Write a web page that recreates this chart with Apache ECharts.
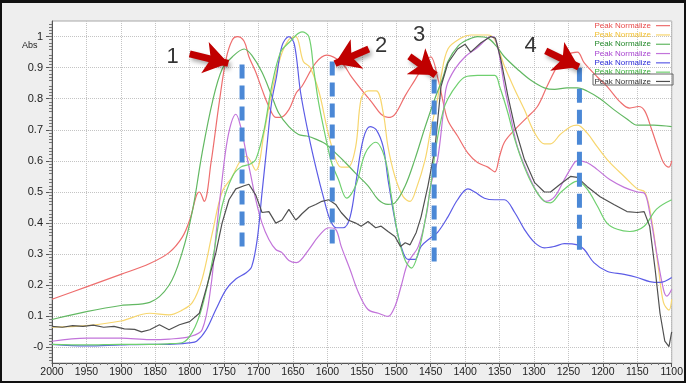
<!DOCTYPE html>
<html><head><meta charset="utf-8">
<script src="https://cdn.jsdelivr.net/npm/echarts@6/dist/echarts.min.js"></script>
<style>
html,body{margin:0;padding:0;background:#eeeeee}
#c{width:686px;height:383px;position:absolute;left:0;top:0}
#f{position:absolute;left:0;top:0;width:686px;height:383px;box-sizing:border-box;border:2px solid #111;border-top-width:3px;pointer-events:none}
</style>
</head><body><div id="c"></div><div id="f"></div>
<script>
// wavenumber (cm-1), absorbance
const red = [[2000,0.155],[1950,0.195],[1900,0.235],[1858,0.27],[1830,0.305],[1811,0.354],[1800,0.41],[1790,0.49],[1786,0.50],[1779,0.47],[1769,0.595],[1757,0.79],[1747,0.93],[1738,0.99],[1731,1.0],[1721,0.985],[1714,0.935],[1704,0.885],[1695,0.83],[1685,0.775],[1675,0.74],[1668,0.74],[1656,0.765],[1645,0.82],[1637,0.84],[1617,0.915],[1601,0.94],[1579,0.915],[1565,0.87],[1551,0.83],[1536,0.79],[1522,0.75],[1512,0.74],[1502,0.75],[1487,0.81],[1473,0.86],[1458,0.915],[1450,0.935],[1439,0.86],[1432,0.79],[1425,0.73],[1411,0.68],[1396,0.625],[1382,0.595],[1367,0.58],[1357,0.565],[1350,0.615],[1343,0.66],[1328,0.70],[1310,0.74],[1295,0.775],[1281,0.84],[1266,0.905],[1252,0.94],[1237,0.95],[1227,0.915],[1208,0.87],[1194,0.84],[1175,0.79],[1161,0.77],[1148,0.775],[1139,0.76],[1129,0.70],[1119,0.635],[1112,0.595],[1104,0.58],[1100,0.60]];
const yellow = [[2000,0.065],[1950,0.07],[1900,0.085],[1858,0.11],[1830,0.105],[1811,0.12],[1796,0.145],[1782,0.22],[1767,0.37],[1753,0.5],[1738,0.55],[1728,0.595],[1718,0.615],[1704,0.57],[1692,0.69],[1681,0.82],[1668,0.935],[1656,0.99],[1646,1.0],[1635,0.92],[1625,0.9],[1612,0.82],[1600,0.70],[1588,0.605],[1580,0.58],[1570,0.58],[1559,0.645],[1551,0.8],[1541,0.825],[1529,0.825],[1519,0.755],[1512,0.645],[1502,0.55],[1490,0.485],[1480,0.47],[1471,0.51],[1458,0.605],[1450,0.70],[1440,0.8],[1435,0.87],[1425,0.96],[1406,0.995],[1392,1.005],[1367,1.005],[1357,0.99],[1343,0.905],[1328,0.83],[1314,0.765],[1299,0.69],[1285,0.655],[1276,0.655],[1262,0.685],[1247,0.71],[1237,0.715],[1223,0.69],[1208,0.645],[1190,0.595],[1169,0.55],[1150,0.51],[1139,0.50],[1129,0.41],[1119,0.25],[1112,0.145],[1104,0.12],[1100,0.155]];
const greenA = [[2000,0.09],[1950,0.115],[1900,0.135],[1858,0.145],[1830,0.2],[1811,0.305],[1796,0.44],[1782,0.625],[1767,0.79],[1753,0.895],[1738,0.935],[1721,0.96],[1710,0.94],[1695,0.885],[1681,0.81],[1671,0.755],[1656,0.71],[1642,0.685],[1630,0.68],[1617,0.67],[1603,0.655],[1588,0.625],[1574,0.595],[1559,0.56],[1541,0.52],[1526,0.475],[1512,0.46],[1502,0.465],[1487,0.52],[1473,0.605],[1458,0.71],[1444,0.8],[1432,0.87],[1425,0.92],[1410,0.97],[1396,0.99],[1382,1.0],[1367,0.995],[1355,0.97],[1343,0.935],[1324,0.895],[1305,0.86],[1285,0.835],[1270,0.83],[1252,0.835],[1237,0.835],[1223,0.825],[1204,0.8],[1184,0.765],[1165,0.735],[1150,0.715],[1126,0.715],[1100,0.71]];
const purple = [[2000,0.02],[1950,0.03],[1900,0.03],[1858,0.025],[1830,0.027],[1800,0.035],[1782,0.057],[1769,0.2],[1762,0.36],[1754,0.52],[1747,0.645],[1740,0.72],[1733,0.75],[1726,0.71],[1718,0.625],[1711,0.55],[1704,0.475],[1695,0.40],[1685,0.347],[1675,0.315],[1666,0.305],[1656,0.28],[1645,0.273],[1627,0.315],[1613,0.357],[1598,0.385],[1588,0.38],[1580,0.325],[1567,0.25],[1555,0.177],[1541,0.122],[1526,0.11],[1512,0.1],[1502,0.132],[1493,0.197],[1483,0.273],[1468,0.325],[1456,0.43],[1450,0.52],[1440,0.605],[1432,0.75],[1427,0.84],[1415,0.895],[1400,0.935],[1382,0.965],[1367,0.995],[1360,1.0],[1353,0.97],[1343,0.84],[1334,0.745],[1324,0.645],[1309,0.56],[1295,0.497],[1283,0.47],[1270,0.485],[1256,0.54],[1241,0.595],[1237,0.6],[1223,0.595],[1208,0.572],[1190,0.54],[1169,0.515],[1150,0.50],[1140,0.497],[1132,0.434],[1122,0.305],[1112,0.187],[1107,0.165],[1100,0.187]];
const blue = [[2000,0.01],[1950,0.005],[1900,0.008],[1858,0.01],[1830,0.01],[1800,0.015],[1790,0.02],[1776,0.057],[1762,0.122],[1747,0.187],[1733,0.22],[1718,0.24],[1710,0.26],[1702,0.347],[1695,0.497],[1688,0.645],[1681,0.79],[1674,0.87],[1666,0.97],[1656,1.0],[1648,0.975],[1639,0.82],[1627,0.68],[1616,0.572],[1606,0.485],[1596,0.41],[1587,0.385],[1577,0.385],[1567,0.42],[1558,0.54],[1548,0.67],[1538,0.71],[1529,0.70],[1519,0.645],[1512,0.54],[1502,0.41],[1493,0.325],[1483,0.283],[1473,0.283],[1464,0.325],[1450,0.353],[1440,0.37],[1425,0.42],[1411,0.475],[1396,0.51],[1386,0.50],[1372,0.48],[1357,0.475],[1343,0.475],[1328,0.434],[1314,0.38],[1299,0.337],[1285,0.32],[1270,0.325],[1256,0.334],[1237,0.33],[1227,0.315],[1213,0.273],[1194,0.245],[1169,0.235],[1150,0.225],[1132,0.212],[1117,0.209],[1100,0.225]];
const greenB = [[2000,0.01],[1950,0.008],[1900,0.01],[1858,0.01],[1830,0.012],[1811,0.015],[1796,0.05],[1782,0.13],[1767,0.28],[1753,0.455],[1738,0.55],[1726,0.58],[1712,0.59],[1704,0.605],[1692,0.70],[1681,0.84],[1668,0.95],[1656,0.98],[1637,1.015],[1627,1.0],[1620,0.895],[1613,0.79],[1603,0.68],[1594,0.595],[1584,0.54],[1572,0.48],[1559,0.52],[1545,0.625],[1530,0.66],[1516,0.605],[1507,0.485],[1497,0.355],[1487,0.28],[1478,0.255],[1468,0.305],[1458,0.41],[1450,0.52],[1442,0.65],[1432,0.76],[1425,0.80],[1410,0.85],[1400,0.87],[1382,0.875],[1357,0.875],[1350,0.84],[1338,0.755],[1328,0.67],[1314,0.58],[1299,0.51],[1285,0.47],[1276,0.465],[1262,0.497],[1247,0.525],[1237,0.535],[1223,0.51],[1208,0.455],[1194,0.40],[1179,0.38],[1161,0.373],[1140,0.39],[1122,0.445],[1100,0.475]];
const black = [[2000,0.068],[1985,0.065],[1970,0.07],[1955,0.068],[1940,0.072],[1925,0.065],[1910,0.068],[1895,0.06],[1880,0.058],[1870,0.05],[1858,0.057],[1844,0.073],[1830,0.057],[1815,0.073],[1800,0.083],[1786,0.11],[1775,0.197],[1762,0.305],[1753,0.40],[1743,0.475],[1733,0.51],[1721,0.52],[1714,0.525],[1704,0.49],[1695,0.434],[1685,0.437],[1675,0.40],[1666,0.41],[1656,0.444],[1646,0.41],[1642,0.418],[1637,0.43],[1627,0.45],[1617,0.46],[1608,0.47],[1598,0.475],[1588,0.46],[1580,0.434],[1570,0.41],[1559,0.40],[1551,0.39],[1541,0.405],[1530,0.385],[1522,0.39],[1512,0.373],[1502,0.357],[1494,0.325],[1487,0.337],[1480,0.33],[1471,0.37],[1464,0.42],[1454,0.52],[1444,0.637],[1435,0.84],[1425,0.915],[1411,0.96],[1400,0.975],[1392,0.95],[1377,0.98],[1363,1.0],[1356,0.995],[1348,0.925],[1338,0.81],[1328,0.71],[1314,0.605],[1299,0.53],[1285,0.50],[1276,0.50],[1262,0.525],[1247,0.55],[1237,0.547],[1223,0.518],[1204,0.485],[1184,0.46],[1165,0.437],[1150,0.434],[1140,0.437],[1132,0.39],[1124,0.25],[1117,0.11],[1110,0.02],[1104,0.003],[1100,0.05]];

const yTickValues = [0,0.1,0.2,0.3,0.4,0.5,0.6,0.7,0.8,0.9,1];
const yTickLabels = ['-0','0.1','0.2','0.3','0.4','0.5','0.6','0.7','0.8','0.9','1'];

// annotations
const markerLines = [[1724,0.91,0.315],[1593,0.92,0.315],[1445,0.862,0.267],[1234,0.90,0.305]];
const arrows = [[[1800,0.944],[1744,0.914]],[[1540,0.960],[1589,0.913]],[[1481,0.936],[1443,0.876]],[[1283,0.954],[1235,0.902]]];
const numberLabels = [['1',1825,0.936],['2',1522,0.971],['3',1467,1.006],['4',1305,0.971]];

const specs = [
  {id:'s1', data:red, color:'#ee6e6e', text:'#e84a4a'},
  {id:'s2', data:yellow, color:'#f7d66e', text:'#f2c030'},
  {id:'s3', data:greenA, color:'#62b862', text:'#23892a'},
  {id:'s4', data:purple, color:'#c274da', text:'#a844d0'},
  {id:'s5', data:blue, color:'#5c5ce6', text:'#2a2ad6'},
  {id:'s6', data:greenB, color:'#6fd06f', text:'#34b034'},
  {id:'s7', data:black, color:'#505050', text:'#333333'}
];

const chart = echarts.init(document.getElementById('c'), null, {renderer:'canvas'});
const series = specs.map(s => ({
  name: s.id, type:'line', data:s.data, showSymbol:false, symbol:'none',
  smooth: s.id==='s7' ? false : 0.35,
  lineStyle:{width:1.2, color:s.color}, itemStyle:{color:s.color}, z:2, silent:true
}));
markerLines.forEach((m,i) => series.push({
  name:'mk'+i, type:'line', data:[[m[0],m[1]],[m[0],m[2]]], showSymbol:false, symbol:'none',
  lineStyle:{width:5, color:'#4b88d6', type:[14,7]}, z:5, silent:true
}));
series.push({
  name:'arrows', type:'lines', coordinateSystem:'cartesian2d', z:6, silent:true,
  symbol:['none','arrow'], symbolSize:24,
  lineStyle:{width:7, color:'#c00000', opacity:1, curveness:0, shadowBlur:4, shadowColor:'rgba(0,0,0,0.35)', shadowOffsetX:2, shadowOffsetY:3},
  data: arrows.map(a => ({coords:a}))
});
series.push({
  name:'nums', type:'scatter', symbolSize:1, itemStyle:{color:'rgba(0,0,0,0)'}, z:7, silent:true,
  label:{show:true, position:'inside', formatter:p=>p.name, fontSize:22, color:'#000', fontFamily:'Liberation Sans, Arial, sans-serif'},
  data: numberLabels.map(n => ({name:n[0], value:[n[1],n[2]]}))
});

chart.setOption({
  animation:false,
  backgroundColor:'#eeeeee',
  textStyle:{fontFamily:'Liberation Sans, Arial, sans-serif'},
  grid:{left:52, right:10, top:21, bottom:20, show:true, backgroundColor:'#ffffff', borderColor:'#a8a8a8', borderWidth:1, containLabel:false},
  xAxis:{
    type:'value', min:1100, max:2000, interval:50, inverse:true,
    axisLine:{show:true, onZero:false, lineStyle:{color:'#555'}},
    axisTick:{show:true, length:4, inside:false, lineStyle:{color:'#555'}},
    minorTick:{show:true, splitNumber:5, length:2, lineStyle:{color:'#777'}},
    axisLabel:{fontSize:10.5, color:'#222', margin:4, formatter:v => String(Math.round(v))},
    splitLine:{show:true, lineStyle:{color:'#c4c4c4', type:'dotted', width:1}}
  },
  yAxis:{
    type:'value', min:-0.05, max:1.05, interval:0.1,
    axisLine:{show:true, onZero:false, lineStyle:{color:'#555'}},
    axisTick:{show:true, length:6, customValues:yTickValues, lineStyle:{color:'#555'}},
    minorTick:{show:true, splitNumber:10, length:3, lineStyle:{color:'#777'}},
    axisLabel:{fontSize:11, color:'#222', margin:9, customValues:yTickValues,
      formatter:v => { const i = yTickValues.findIndex(t => Math.abs(t-v)<1e-6); return i>=0 ? yTickLabels[i] : ''; }},
    splitLine:{show:true, lineStyle:{color:'#c4c4c4', type:'dotted', width:1}}
  },
  legend:{
    show:true, orient:'vertical', right:14, top:19, align:'right',
    icon:'rect', itemWidth:14, itemHeight:1.2, itemGap:0, padding:[2,2],
    selectedMode:false,
    formatter:() => 'Peak Normalize',
    textStyle:{fontSize:8, lineHeight:9.3, padding:[0,0,0,0]},
    data: specs.map(s => ({name:s.id, textStyle:{color:s.text}, itemStyle:{color:s.color}}))
  },
  graphic:[
    {type:'text', left:22, top:41, style:{text:'Abs', fontSize:9, fill:'#222', fontFamily:'Liberation Sans, Arial, sans-serif'}},
    {type:'rect', shape:{x:593, y:74, width:80, height:11}, style:{fill:'none', stroke:'#666', lineWidth:1}, z:10}
  ],
  series: series
});
</script>
</body></html>
